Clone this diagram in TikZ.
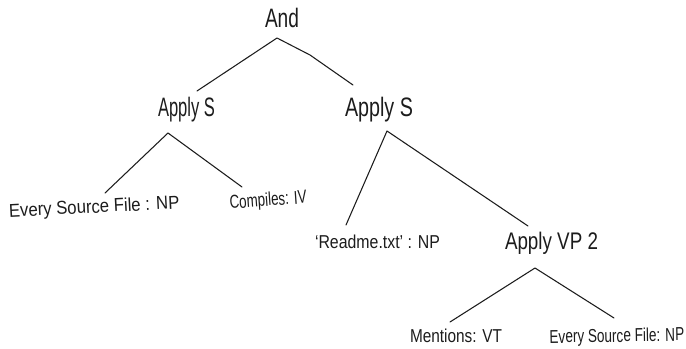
\documentclass[tikz,border=0pt]{standalone}
\usepackage{fontspec}
\setmainfont{Liberation Sans}
\usepackage{graphicx}
\usetikzlibrary{calc}

\definecolor{ink}{HTML}{1C1C1C}
% squeeze a label to a given width, keeping its natural height
\newcommand\handfit[2]{\resizebox{#1}{\height}{#2}}

\tikzset{
  lbl/.style={inner sep=0pt, anchor=base, text=ink},
  big/.style={lbl, font=\fontsize{20}{22}\selectfont},
  mid/.style={lbl, font=\fontsize{18}{20}\selectfont},
  leaf/.style={lbl, font=\fontsize{14}{16}\selectfont},
  branch/.style={draw=ink, line width=0.8pt, line cap=round, line join=round},
}

\begin{document}
\begin{tikzpicture}[x=0.75pt, y=-0.75pt]
\useasboundingbox (0,0) rectangle (686,349);

% labels (placed by baseline)
\node[big] (and) at (282,28) {\handfit{25.5pt}{And}};
\node[big] (s1) at (186.5,117) {\handfit{42.75pt}{Apply S}};
\node[big] (s2) at (379,117) {\handfit{51pt}{Apply S}};
\node[leaf, rotate=3] (e1) at (94.5,213) {\handfit{128pt}{Every Source File : NP}};
\node[leaf, rotate=4] (c1) at (268.5,206) {\handfit{57.75pt}{Compiles: IV}};
\node[leaf] (r1) at (377.5,249) {\handfit{93.75pt}{‘Readme.txt’ : NP}};
\node[mid] (v2) at (551.5,250) {\handfit{69.75pt}{Apply VP 2}};
\node[leaf] (m1) at (456,342) {\handfit{69pt}{Mentions: VT}};
\node[leaf, rotate=1] (e2) at (617,342) {\handfit{101pt}{Every Source File: NP}};

% branches
\draw[branch] ($(s1.base)+(10.5,-26)$) -- ($(and.base)+(-5,10)$)
              -- ($(and.base)+(28,27)$) -- ($(s2.base)+(-26,-32)$);
\draw[branch] ($(e1.base)+(10.5,-20)$) -- ($(s1.base)+(-18.5,16)$)
              -- ($(c1.base)+(-26.5,-19)$);
\draw[branch] ($(r1.base)+(-31.5,-24)$) -- ($(s2.base)+(8,14)$)
              -- ($(v2.base)+(-23.5,-24)$);
\draw[branch] ($(m1.base)+(-6,-20)$) -- ($(v2.base)+(-16.5,18)$)
              -- ($(e2.base)+(-3,-24)$);
\end{tikzpicture}
\end{document}
